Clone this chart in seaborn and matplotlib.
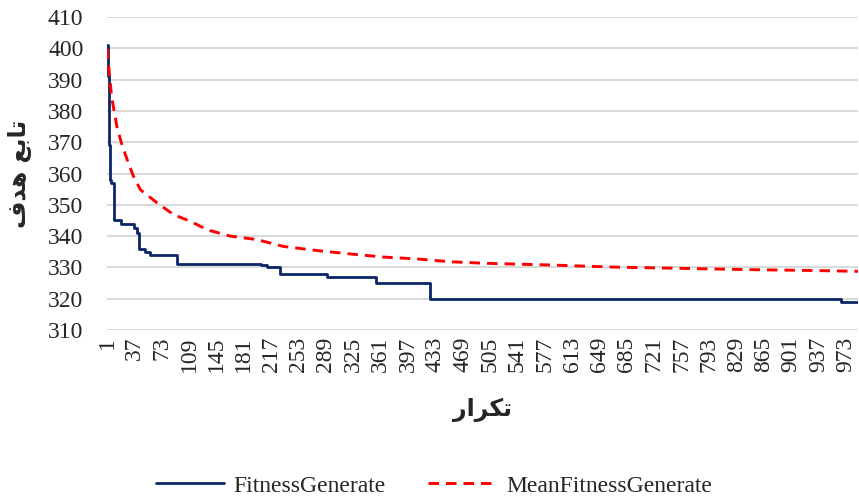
import matplotlib
matplotlib.use("Agg")
import matplotlib.pyplot as plt
import seaborn as sns
import pandas as pd

# ---- data ----
fit_iter = [1, 2, 3, 4, 5, 6, 10, 20, 36, 40, 43, 51, 57, 93, 203, 211, 229, 290, 355, 426, 967, 1000]
fit_val = [401, 391, 380, 369, 358, 357, 345, 344, 342.5, 341, 336, 335, 334, 331, 330.7, 330, 328, 327, 325, 320, 319, 319]

mean_iter = [1, 7, 14, 20, 29, 36, 45, 67, 89, 111, 133, 163, 198, 233, 277, 321, 365,
             409, 453, 500, 580, 668, 755, 843, 931, 1000]
mean_val = [400, 384.6, 375, 369.7, 363.4, 359, 354.8, 350.6, 346.8, 344.7, 342, 340, 338.9,
            336.7, 335.4, 334.3, 333.3, 332.7, 331.8, 331.3, 330.8, 330.1, 329.7, 329.3, 329, 328.7]

x_ticks = list(range(1, 1000, 36))
y_ticks = list(range(310, 411, 10))

series_names = ["FitnessGenerate", "MeanFitnessGenerate"]
y_label = "\uFED1\uFEAA\uFEEB \uFECA\uFE91\uFE8E\uFE97"   # تابع هدف (pre-shaped, visual order)
x_label = "\uFEAD\uFE8D\uFEAE\uFB91\uFE97"                 # تکرار (pre-shaped, visual order)

fit_df = pd.DataFrame({"iter": fit_iter, "value": fit_val})
mean_df = pd.DataFrame({"iter": mean_iter, "value": mean_val})

sns.set_theme(style="white")
plt.rcParams["font.family"] = ["Liberation Serif", "DejaVu Serif"]

fig = plt.figure(figsize=(8.59, 5.01), dpi=100)
ax = fig.add_axes([107 / 859, (501 - 330) / 501, (858 - 107) / 859, (330 - 17) / 501])

ax.set_yticks(y_ticks)
ax.yaxis.grid(True, color="#d9d9d9", linewidth=1.4)
ax.xaxis.grid(False)
ax.set_axisbelow(True)

sns.lineplot(data=fit_df, x="iter", y="value", ax=ax, color="#0b2566", linewidth=2.0,
             drawstyle="steps-post", estimator=None, label=series_names[0], legend=False)
sns.lineplot(data=mean_df, x="iter", y="value", ax=ax, color="#ff0000", linewidth=2.1,
             estimator=None, label=series_names[1], legend=False, dashes=False)
ax.lines[-1].set_dashes((3.6, 2.4))

ax.set_xlim(1, 989)
ax.set_ylim(310, 410)
ax.set_xticks(x_ticks)
ax.set_xticklabels([str(t) for t in x_ticks], rotation=90, fontsize=17)
ax.set_yticklabels([str(t) for t in y_ticks], fontsize=17)
ax.tick_params(axis="y", length=0, pad=17)
ax.tick_params(axis="x", length=0, pad=5)

for s in ax.spines.values():
    s.set_visible(False)

ax.set_xlabel(x_label, fontsize=17, fontweight="bold", family=["DejaVu Sans"])
ax.set_ylabel(y_label, fontsize=17, fontweight="bold", family=["DejaVu Sans"])
ax.xaxis.set_label_coords(0.5, -0.215)
ax.yaxis.set_label_coords(-0.1, 0.5)

handles = ax.lines[:2]
fig.legend(handles, series_names, loc="center", bbox_to_anchor=(434 / 859, 1 - 486 / 501),
           ncol=2, frameon=False, fontsize=17, handlelength=2.9, columnspacing=1.8,
           handletextpad=0.4)

fig.savefig("out.png", dpi=100)
